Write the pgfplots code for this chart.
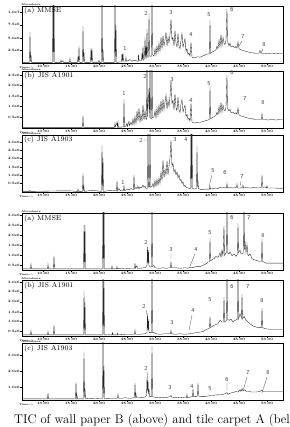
\documentclass[border=0pt]{standalone}
\usepackage{pgfplots}
\pgfplotsset{compat=1.18}
\pgfplotsset{chrom/.style={
  width=261pt, scale only axis, xmin=22, xmax=283, ymin=0, ymax=100,
  axis line style={line width=0.7pt},
  xtick={43,71,99,127,155,183,211,239,267},
  xticklabels={10.00,15.00,20.00,25.00,30.00,35.00,40.00,45.00,50.00},
  minor x tick num=4,
  tick align=outside, xtick pos=bottom, ytick pos=left,
  major tick length=1.6pt, minor tick length=1pt,
  tick style={line width=0.35pt, black},
  xticklabel style={font=\fontsize{3.4}{4}\selectfont\bfseries, inner sep=0.4pt},
  yticklabel style={font=\fontsize{3.4}{4}\selectfont\bfseries, inner sep=0.6pt},
}, cg/.style={black!85, line width=0.35pt, sharp plot, mark=none}}
\newcommand{\pk}[3]{\node[font=\fontsize{6}{6}\selectfont\sffamily, text=black!75, inner sep=0] at (#1pt,#2pt) {#3};}
\newcommand{\ttl}[3]{\node[font=\fontsize{7}{7}\selectfont, anchor=west, inner sep=0] at (#1pt,#2pt) {#3};}
\newcommand{\abund}[2]{\node[font=\fontsize{2.6}{3}\selectfont\bfseries, anchor=south west, inner sep=0.2pt] at (#1pt,#2pt) {Abundance};}
\newcommand{\tim}[2]{\node[font=\fontsize{2.6}{3}\selectfont\bfseries, anchor=north west, inner sep=0.2pt] at (#1pt,#2pt) {Time-{}->};}
\begin{document}
\begin{tikzpicture}
\useasboundingbox (0pt,0pt) rectangle (289pt,427pt);
% ---------- Panel 1: wall paper B, MMSE
\begin{axis}[chrom, height=57pt, at={(22pt,364pt)}, anchor=south west,
  ytick={22,44,67,89}, yticklabels={2.5e6,5.0e6,7.5e6,1.0e7}]
\addplot[cg] coordinates {(22,1)(29.5,1)(30,54)(30.5,2)(31,14)(31.5,1)(52.5,1)(53,120)(53.5,2)(54,120)(54.5,1)(60.5,1)(61,5)(61.5,1)(63,4)(63.5,1)(69.5,1)(70,8)(70.5,1)(77.5,1)(78,11)(78.5,2)(79,30)(79.5,1)(82.5,1)(83,65)(83.5,2)(84,19)(84.5,1)(90.5,1)(91,26)(91.5,2)(92,25)(92.5,1)(98.5,1)(99,5)(99.5,1)(101.5,1)(102,120)(102.5,2)(103,24)(103.5,1)(114.5,1)(115,120)(115.5,2)(116,67)(116.5,1)(121.5,2)(122,17)(122.5,3)(123,17)(123.5,3)(125.5,3)(126,10)(126.5,3)(128,4)(130,6)(132,3)(134,5)(136,4)(138,3)(138.5,15)(139,4)(141.5,4)(142,18)(142.5,5)(143,30)(143.5,5)(144.5,8)(145,45)(145.5,8)(146,30)(146.5,8)(147,60)(147.5,10)(148.5,10)(149,88)(149.5,12)(151.5,12)(152,120)(152.5,15)(154,12)(155,25)(156,14)(157,30)(158,18)(159,35)(160,20)(161,45)(162,25)(163,48)(164,30)(165,40)(166,54)(167,30)(168,45)(169,35)(170,50)(171,77)(172,40)(173,45)(174,30)(175,57)(176,35)(177,28)(178,52)(179,30)(180,25)(181,40)(182,52)(183,28)(184,35)(185,43)(186,20)(187,25)(188,15)(189,18)(190,12)(191,36)(192,10)(194,9)(196,10)(198,11)(200,10)(202,12)(204,13)(206,15)(208,16)(209.5,16)(210,75)(210.5,17)(212,19)(214,21)(216,23)(217,30)(218,25)(219,40)(220,28)(221,50)(222,30)(223,45)(224,35)(225,32)(226,40)(227,95)(227.5,38)(229,30)(230,35)(231,28)(233,30)(235,27)(236,29)(237,26)(238,37)(239,25)(241,23)(243,22)(245,21)(247,20)(249,19)(251,18)(253,18)(255,17)(257,17)(259,17)(260,22)(261,17)(263,17)(265,17)(267,16)(270,17)(273,17)(276,16)(279,17)(283,17)};
\end{axis}
% ---------- Panel 2: wall paper B, JIS A1901
\begin{axis}[chrom, height=57pt, at={(22pt,299pt)}, anchor=south west,
  ytick={19,37.5,56,74.5,93}, yticklabels={0.5e6,1.0e6,1.5e6,2.0e6,2.5e6}]
\addplot[cg] coordinates {(22,1)(82.5,1)(83,22)(83.5,1)(114.5,1)(115,8)(115.5,2)(117,10)(117.5,2)(118,9)(118.5,1)(123.5,2)(124,50)(124.5,2)(126,4)(127,8)(127.5,3)(129,12)(129.5,4)(131,10)(132,5)(133,16)(134,6)(135,20)(136,8)(137,30)(138,12)(139,35)(140,10)(141,25)(142,12)(143,40)(144,14)(145,30)(146,15)(146.5,15)(147,120)(147.5,18)(149,70)(149.5,18)(150,120)(150.5,16)(151.5,16)(152,120)(152.5,18)(154,20)(155,30)(156,18)(157,35)(158,22)(159,40)(160,25)(161,48)(162,28)(163,50)(164,32)(165,45)(166,58)(167,33)(168,48)(169,38)(170,55)(171,84)(172,42)(173,48)(174,32)(175,60)(176,36)(177,30)(178,55)(179,32)(180,27)(181,42)(182,50)(183,28)(184,35)(185,40)(186,20)(187,24)(188,15)(189,17)(190,12)(191,44)(192,10)(194,9)(196,9)(198,10)(200,10)(202,11)(204,12)(206,13)(208,14)(209.5,15)(210,74)(210.5,16)(212,18)(214,20)(216,22)(217,28)(218,23)(219,38)(220,26)(221,45)(222,28)(223,40)(224,32)(225,30)(226,36)(227,93)(227.5,35)(229,30)(230,33)(231,27)(233,28)(235,25)(236,27)(237,24)(238,35)(239,23)(241,21)(243,20)(245,19)(247,18)(249,17)(251,16)(253,16)(255,15)(257,15)(259,15)(261.5,15)(262,26)(262.5,15)(265,15)(268,14)(272,15)(276,14)(280,15)(283,15)};
\end{axis}
% ---------- Panel 3: wall paper B, JIS A1903
\begin{axis}[chrom, height=57pt, at={(22pt,235pt)}, anchor=south west,
  ytick={15,29.5,44,58.5,73,87.5}, yticklabels={0.5e6,1.0e6,1.5e6,2.0e6,2.5e6,3.0e6}]
\addplot[cg] coordinates {(22,1)(29.5,1)(30,3)(30.5,1)(60,2)(70,2)(77.5,1)(78,5)(78.5,1)(82.5,1)(83,33)(83.5,2)(84,8)(84.5,1)(92,3)(101.5,1)(102,82)(102.5,3)(103,60)(103.5,1)(110,3)(116.5,2)(117,20)(117.5,2)(119,6)(120,3)(123.5,2)(124,12)(124.5,2)(127,5)(129,4)(131,6)(133.5,4)(134,30)(134.5,5)(136,8)(137,6)(138,10)(139,5)(140,9)(141,7)(143,12)(144,8)(145,10)(146,6)(147.5,6)(148,120)(148.5,8)(149,15)(149.5,8)(150,120)(150.5,8)(152,10)(153,15)(154,8)(155,20)(156,10)(157,22)(158,12)(159,25)(160,15)(161,35)(162,20)(163,56)(164,25)(165,40)(166,30)(167,55)(168,30)(169,45)(170,60)(171,91)(172,45)(173,50)(174,35)(175,40)(176,30)(177,35)(178,25)(179,30)(180,20)(181,22)(182,15)(183,18)(184,10)(185,12)(186,8)(188,7)(190.5,6)(191,120)(191.5,7)(192,120)(192.5,6)(194,5)(196,6)(196.5,6)(197,80)(197.5,8)(198,20)(198.5,6)(200,5)(202,4)(205,5)(208,5)(209.5,5)(210,10)(210.5,5)(213,6)(216,7)(218,6)(220,8)(222,7)(224,8)(226.5,7)(227,15)(227.5,7)(230,8)(233,7)(236.5,8)(237,14)(237.5,7)(240,7)(242.5,8)(243,12)(243.5,7)(246,8)(250,7)(255,8)(258,7)(261.5,8)(262,30)(262.5,10)(263,8)(265,9)(266.5,7)(267,11)(267.5,7)(270,7)(275,7)(280,6)(283,7)};
\end{axis}
% ---------- Panel 4: tile carpet A, MMSE
\begin{axis}[chrom, height=57pt, at={(22pt,157pt)}, anchor=south west,
  ytick={8,26,43,61,79,96}, yticklabels={0.5e6,1.0e6,1.5e6,2.0e6,2.5e6,3.0e6}]
\addplot[cg] coordinates {(22,2)(30.5,2)(31,10)(31.5,2)(47.5,2)(48,10)(48.5,2)(53.5,2)(54,25)(54.5,2)(60,2)(70,2)(80,2)(83.5,2)(84,79)(84.5,3)(85,79)(85.5,2)(102.5,2)(103,120)(103.5,3)(104,120)(104.5,2)(111.5,2)(112,7)(112.5,2)(116.5,2)(117,6)(117.5,2)(120,3)(125,2)(130,3)(134.5,3)(135,12)(135.5,3)(137,8)(137.5,3)(140,3)(145,4)(147,8)(147.5,40)(148,10)(148.5,35)(149,8)(150,5)(151.5,6)(152,120)(152.5,6)(154,8)(155,4)(158,3)(160,3)(163,4)(166,3)(170,4)(170.5,4)(171,15)(171.5,4)(175,4)(180,3)(185,4)(188,3)(190,5)(193,4)(196,6)(200,6)(203,8)(205,10)(207,12)(208,14)(209.5,14)(210,55)(210.5,16)(212,18)(214,20)(216,24)(218,22)(220,30)(221,22)(222,35)(223,25)(224,78)(224.5,25)(226,30)(226.5,30)(227,120)(227.5,30)(229,28)(230,32)(232,25)(234,28)(236,24)(237.5,28)(238,82)(238.5,30)(240,35)(241,28)(243.5,30)(244,120)(244.5,35)(245,50)(246,30)(247,45)(248,25)(250,28)(252,20)(254,18)(256,17)(258,16)(260,15)(261.5,15)(262,55)(262.5,15)(264,14)(266,12)(270,12)(275,12)(280,12)(283,12)};
\end{axis}
% ---------- Panel 5: tile carpet A, JIS A1901
\begin{axis}[chrom, height=56pt, at={(22pt,91pt)}, anchor=south west,
  ytick={8,26,43,61,79,96}, yticklabels={0.5e6,1.0e6,1.5e6,2.0e6,2.5e6,3.0e6}]
\addplot[cg] coordinates {(22,2)(30.5,2)(31,9)(31.5,2)(47.5,2)(48,8)(48.5,2)(53.5,2)(54,20)(54.5,2)(83.5,2)(84,80)(84.5,3)(85,60)(85.5,2)(102.5,2)(103,120)(103.5,3)(104,100)(104.5,2)(112,2)(112.5,6)(113,2)(117,2)(117.5,5)(118,2)(125,3)(134.5,3)(135,10)(135.5,3)(140,3)(145,4)(147,6)(147.5,40)(148,10)(148.5,30)(149,6)(151.5,6)(152,120)(152.5,6)(154,6)(156,4)(160,3)(165,4)(170.5,4)(171,10)(171.5,4)(175,3)(180,4)(185,3)(190,4)(193,5)(196,6)(200,7)(203,8)(205,10)(207,12)(209.5,14)(210,35)(210.5,15)(212,17)(215,20)(218,22)(220,28)(222,25)(223.5,25)(224,70)(224.5,25)(226.5,28)(227,120)(227.5,30)(229,28)(231,30)(233,25)(235,28)(237.5,30)(238,120)(238.5,30)(240,40)(241.5,32)(242,75)(242.5,30)(244,35)(246,28)(248,25)(250,22)(253,18)(256,16)(259,15)(261.5,15)(262,50)(262.5,15)(265,13)(270,12)(275,12)(283,12)};
\end{axis}
% ---------- Panel 6: tile carpet A, JIS A1903
\begin{axis}[chrom, height=57pt, at={(22pt,27pt)}, anchor=south west,
  ytick={22,50,78}, yticklabels={1.0e6,2.0e6,3.0e6}]
\addplot[cg] coordinates {(22,2)(47.5,2)(48,12)(48.5,2)(60,2)(75.5,2)(76,32)(76.5,3)(77,8)(77.5,2)(83.5,2)(84,85)(84.5,4)(85,20)(85.5,2)(90,3)(102.5,2)(103,120)(103.5,4)(104,60)(104.5,2)(110,3)(117.5,3)(118,10)(118.5,3)(122,3)(125,4)(130,3)(134.5,4)(135,30)(135.5,5)(136,10)(136.5,4)(140,4)(145,5)(146.5,8)(147,40)(147.5,15)(148,35)(148.5,10)(149,20)(149.5,6)(151.5,6)(152,95)(152.5,6)(154,5)(158,4)(162,5)(166,4)(170,6)(171,8)(172,5)(176,4)(180,5)(184,4)(186.5,4)(187,10)(187.5,4)(190,5)(192.5,6)(193,20)(193.5,6)(196,6)(197.5,7)(198,30)(198.5,7)(201,6)(205,6)(208,7)(210,8)(213,8)(216,9)(220,9)(223,10)(225,11)(227,13)(228,10)(230,12)(233,13)(236,15)(238,14)(240,18)(241,15)(242,20)(243,16)(245,18)(246,15)(248,15)(252,14)(256,14)(260,15)(262,18)(263,15)(266,15)(270,15)(275,15)(283,15)};
\end{axis}
% ---------- small scale labels
\abund{21}{421}\tim{19}{361}
\abund{21}{356}\tim{19}{296}
\abund{21}{292}\tim{19}{232}
\abund{21}{214}\tim{19}{154}
\abund{21}{147}\tim{19}{88}
\abund{21}{84}\tim{19}{24}
% ---------- panel titles
\ttl{24}{416}{(a) MMSE}
\ttl{24}{351}{(b) JIS A1901}
\ttl{24}{287}{(c) JIS A1903}
\ttl{24}{208}{(a) MMSE}
\ttl{24}{141}{(b) JIS A1901}
\ttl{24}{78}{(c) JIS A1903}
% ---------- peak numbers, panel 1
\pk{125}{379}{1}\pk{146}{414}{2}\pk{171}{414}{3}\pk{191}{392}{4}
\pk{209}{412}{5}\pk{232}{417}{6}\pk{243}{390}{7}\pk{264}{382}{8}
\draw[black!70, line width=0.3pt] (242pt,386pt)--(239pt,381pt) (263pt,378pt)--(261pt,374pt);
% panel 2
\pk{124}{334}{1}\pk{145}{351}{2}\pk{172}{347}{3}\pk{191}{326}{4}
\pk{209}{343}{5}\pk{232}{354}{6}\pk{245}{328}{7}\pk{263}{324}{8}
% panel 3
\pk{123}{245}{1}\pk{141}{287}{2}\pk{175}{287}{3}\pk{186}{287}{4}
\pk{213}{256}{5}\pk{225}{254}{6}\pk{242}{250}{7}
\draw[black!70, line width=0.3pt] (143.5pt,287pt)--(147.5pt,287pt) (212pt,252pt)--(209pt,240pt) (241pt,246pt)--(240pt,241pt);
% panel 4
\pk{146}{185}{2}\pk{171}{177}{3}\pk{196}{177}{4}\pk{210}{194}{5}
\pk{232}{209}{6}\pk{249}{209}{7}\pk{263}{191}{8}
\draw[black!70, line width=0.3pt] (147pt,181pt)--(148pt,176pt) (171pt,173pt)--(171pt,168pt) (195pt,173pt)--(190pt,161pt);
% panel 5
\pk{144}{121}{2}\pk{172}{104}{3}\pk{193}{116}{4}\pk{210}{127}{5}
\pk{232}{140}{6}\pk{248}{140}{7}\pk{262}{126}{8}
\draw[black!70, line width=0.3pt] (146pt,117pt)--(147.5pt,110pt) (192pt,112pt)--(189pt,97pt);
% panel 6
\pk{146}{59}{2}\pk{170}{39}{3}\pk{192}{40}{4}\pk{210}{38}{5}
\pk{227}{47}{6}\pk{248}{54}{7}\pk{268}{54}{8}
\draw[black!70, line width=0.3pt] (147pt,55pt)--(148pt,48pt) (227pt,43pt)--(227pt,36pt) (247pt,50pt)--(243pt,36pt) (267pt,50pt)--(262pt,34pt);
% ---------- caption (runs past the right edge, as in the reference)
\node[anchor=base west, inner sep=0, font=\fontsize{12.6}{12.6}\selectfont] at (14pt,3.5pt) {TIC of wall paper B (above) and tile carpet A (below)};
\end{tikzpicture}
\end{document}
